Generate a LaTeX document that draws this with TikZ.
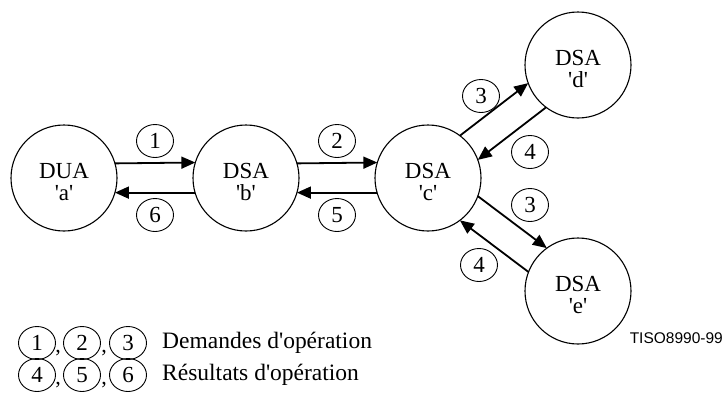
\documentclass[tikz,border=0pt]{standalone}
\usepackage{fontspec}
\setmainfont{Liberation Serif}[Ligatures=TeXOff]
\newfontfamily\tisofont{Liberation Sans}
\usetikzlibrary{arrows.meta,shapes.geometric}
\begin{document}
\begin{tikzpicture}[x=1pt,y=-1pt,
  agent/.style={circle,draw,line width=1.1pt,minimum size=106pt,inner sep=0pt,outer sep=0pt},
  agenttxt/.style={align=center,inner sep=0pt,yshift=-4pt,font=\fontsize{23}{22}\selectfont},
  num/.style={ellipse,draw,line width=0.9pt,minimum width=37pt,minimum height=33pt,
    inner sep=0pt,font=\fontsize{23}{23}\selectfont},
  flow/.style={line width=1.8pt,-{Triangle[length=14pt,width=12pt]}},
  comma/.style={inner sep=0pt,font=\fontsize{22}{22}\selectfont},
  legtxt/.style={anchor=west,inner sep=0pt,font=\fontsize{23.5}{23.5}\selectfont}]
\useasboundingbox (0,0) rectangle (723,410);

% agents
\node[agent,label={[agenttxt]center:DUA\\'a'}] (a) at (64,178) {};
\node[agent,label={[agenttxt]center:DSA\\'b'}] (b) at (246,178) {};
\node[agent,label={[agenttxt]center:DSA\\'c'}] (c) at (428,178) {};
\node[agent,label={[agenttxt]center:DSA\\'d'}] (d) at (578,65) {};
\node[agent,label={[agenttxt]center:DSA\\'e'}] (e) at (578,291) {};

% flows
\draw[flow] (a.16.4) -- (b.163.6);
\draw[flow] (b.196.4) -- (a.-16.4);
\draw[flow] (b.16.4) -- (c.163.6);
\draw[flow] (c.196.4) -- (b.-16.4);
\draw[flow] (c.53.4) -- (d.200.6);
\draw[flow] (d.233.4) -- (c.20.6);
\draw[flow] (c.-20.6) -- (e.126.6);
\draw[flow] (e.159.4) -- (c.-53.4);

% step numbers
\node[num] (l1) at (155,141) {1};
\node[num] (l6) at (155,215) {6};
\node[num] (l2) at (337,141) {2};
\node[num] (l5) at (337,215) {5};
\node[num] (l3d) at (481,96) {3};
\node[num] (l4d) at (530,152) {4};
\node[num] (l3e) at (530,205) {3};
\node[num] (l4e) at (479,265) {4};

% legend
\node[num] (k1) at (37,343) {1};
\node[comma] (k1c) at (58,353) {,};
\node[num] (k2) at (82,343) {2};
\node[comma] (k2c) at (104,353) {,};
\node[num] (k3) at (128,343) {3};
\node[legtxt] (t1) at (162,343) {Demandes d'opération};

\node[num] (k4) at (37,375) {4};
\node[comma] (k4c) at (58,385) {,};
\node[num] (k5) at (82,375) {5};
\node[comma] (k5c) at (104,385) {,};
\node[num] (k6) at (128,375) {6};
\node[legtxt] (t2) at (162,375) {Résultats d'opération};

\node[anchor=east,inner sep=0pt,font=\tisofont\fontsize{15.5}{16}\selectfont] (tiso) at (723,338) {TISO8990-99};
\end{tikzpicture}
\end{document}
